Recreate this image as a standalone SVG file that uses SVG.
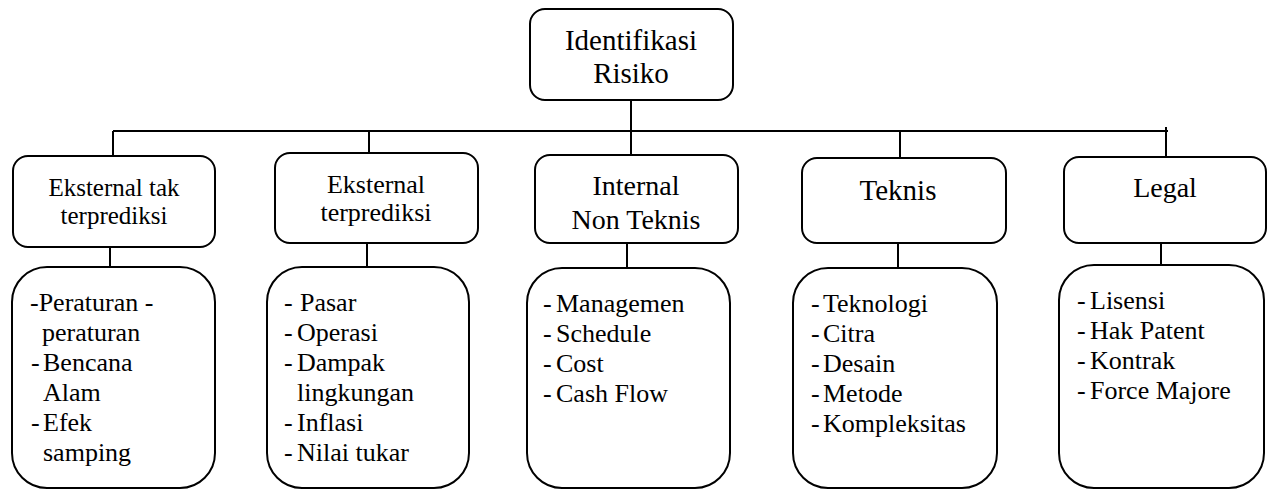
<svg xmlns="http://www.w3.org/2000/svg" width="1275" height="491" viewBox="0 0 1275 491">
<style>
.box{fill:#fff;stroke:#000;stroke-width:2}
.ln{stroke:#000;stroke-width:2;fill:none}
.s{font-family:"Liberation Serif","Times New Roman",serif;fill:#000}
.t29{font-size:29px;text-anchor:middle}
.t28{font-size:28px;text-anchor:middle}
.t26{font-size:26px;text-anchor:middle}
.t25{font-size:25px;text-anchor:middle}
.d{font-size:26px}
</style>
<rect width="1275" height="491" fill="#fff"/>
<g id="connectors">
<line class="ln" x1="631" y1="100" x2="631" y2="155"/>
<line class="ln" x1="113" y1="131" x2="1168" y2="131"/>
<line class="ln" x1="113" y1="131" x2="113" y2="156"/>
<line class="ln" x1="369" y1="131" x2="369" y2="153"/>
<line class="ln" x1="900" y1="131" x2="900" y2="158"/>
<line class="ln" x1="1166" y1="127" x2="1166" y2="157"/>
<line class="ln" x1="110" y1="247" x2="110" y2="267"/>
<line class="ln" x1="367" y1="243" x2="367" y2="267"/>
<line class="ln" x1="627" y1="243" x2="627" y2="268"/>
<line class="ln" x1="898" y1="243" x2="898" y2="268"/>
<line class="ln" x1="1161" y1="243" x2="1161" y2="265"/>
</g>
<g id="root">
<rect class="box" x="530" y="9" width="203" height="91" rx="15"/>
<text class="s t29" x="631" y="50">Identifikasi</text>
<text class="s t29" x="631" y="83">Risiko</text>
</g>
<g id="c1">
<rect class="box" x="13" y="156" width="202" height="91" rx="15"/>
<text class="s t25" x="114" y="196">Eksternal tak</text>
<text class="s t25" x="114" y="224">terprediksi</text>
</g>
<g id="c2">
<rect class="box" x="275" y="153" width="203" height="90" rx="15"/>
<text class="s t26" x="376" y="193">Eksternal</text>
<text class="s t26" x="376" y="221">terprediksi</text>
</g>
<g id="c3">
<rect class="box" x="535" y="155" width="203" height="88" rx="15"/>
<text class="s t28" x="636" y="195">Internal</text>
<text class="s t28" x="636" y="229">Non Teknis</text>
</g>
<g id="c4">
<rect class="box" x="802" y="158" width="204" height="85" rx="15"/>
<text class="s t29" x="898" y="200">Teknis</text>
</g>
<g id="c5">
<rect class="box" x="1064" y="157" width="202" height="86" rx="15"/>
<text class="s t28" x="1165" y="197">Legal</text>
</g>
<g id="d1">
<rect class="box" x="12" y="267" width="203" height="221" rx="35"/>
<text class="s d" x="30" y="311">-Peraturan -</text>
<text class="s d" x="42" y="341">peraturan</text>
<text class="s d" x="31" y="371">-</text><text class="s d" x="43" y="371">Bencana</text>
<text class="s d" x="43" y="401">Alam</text>
<text class="s d" x="31" y="431">-</text><text class="s d" x="43" y="431">Efek</text>
<text class="s d" x="43" y="461">samping</text>
</g>
<g id="d2">
<rect class="box" x="267" y="267" width="202" height="221" rx="35"/>
<text class="s d" x="284" y="311">-</text><text class="s d" x="300" y="311">Pasar</text>
<text class="s d" x="284" y="341">-</text><text class="s d" x="297" y="341">Operasi</text>
<text class="s d" x="284" y="371">-</text><text class="s d" x="297" y="371">Dampak</text>
<text class="s d" x="297" y="401">lingkungan</text>
<text class="s d" x="284" y="431">-</text><text class="s d" x="297" y="431">Inflasi</text>
<text class="s d" x="284" y="461">-</text><text class="s d" x="297" y="461">Nilai tukar</text>
</g>
<g id="d3">
<rect class="box" x="527" y="268" width="203" height="220" rx="35"/>
<text class="s d" x="543" y="312">-</text><text class="s d" x="556" y="312">Managemen</text>
<text class="s d" x="543" y="342">-</text><text class="s d" x="556" y="342">Schedule</text>
<text class="s d" x="543" y="372">-</text><text class="s d" x="556" y="372">Cost</text>
<text class="s d" x="543" y="402">-</text><text class="s d" x="556" y="402">Cash Flow</text>
</g>
<g id="d4">
<rect class="box" x="793" y="268" width="204" height="220" rx="35"/>
<text class="s d" x="811" y="312">-</text><text class="s d" x="823" y="312">Teknologi</text>
<text class="s d" x="811" y="342">-</text><text class="s d" x="823" y="342">Citra</text>
<text class="s d" x="811" y="372">-</text><text class="s d" x="823" y="372">Desain</text>
<text class="s d" x="811" y="402">-</text><text class="s d" x="823" y="402">Metode</text>
<text class="s d" x="811" y="432">-</text><text class="s d" x="823" y="432">Kompleksitas</text>
</g>
<g id="d5">
<rect class="box" x="1059" y="265" width="205" height="223" rx="35"/>
<text class="s d" x="1077" y="309">-</text><text class="s d" x="1090" y="309">Lisensi</text>
<text class="s d" x="1077" y="339">-</text><text class="s d" x="1090" y="339">Hak Patent</text>
<text class="s d" x="1077" y="369">-</text><text class="s d" x="1090" y="369">Kontrak</text>
<text class="s d" x="1077" y="399">-</text><text class="s d" x="1090" y="399">Force Majore</text>
</g>
</svg>
